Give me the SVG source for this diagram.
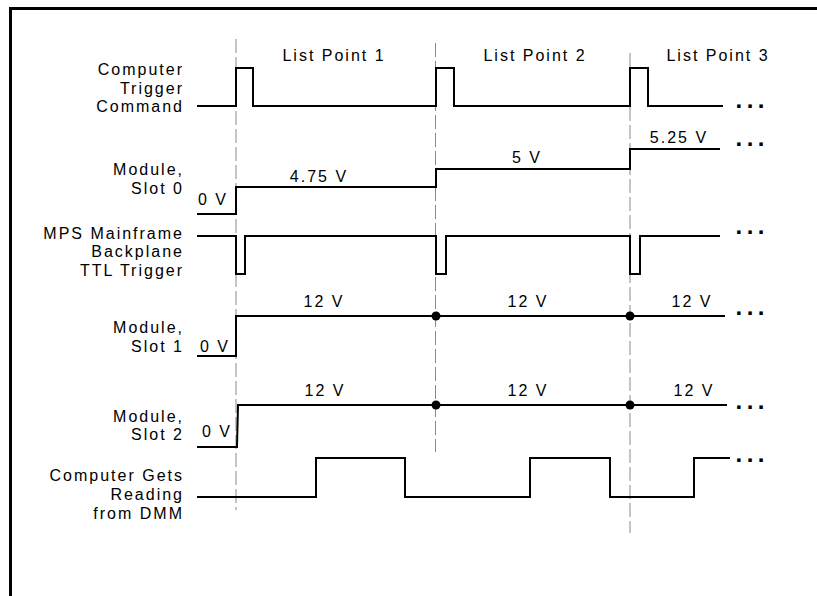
<svg xmlns="http://www.w3.org/2000/svg" width="817" height="596" viewBox="0 0 817 596">
<style>
.lbl{font-family:"Liberation Sans",Arial,sans-serif;font-size:16px;letter-spacing:2px;fill:#000}
.r{text-anchor:end}
.c{text-anchor:middle}
.dots{font-family:"Liberation Sans",Arial,sans-serif;font-size:24px;font-weight:bold;letter-spacing:4.5px;fill:#000}
.sig{fill:none;stroke:#000;stroke-width:2;stroke-linejoin:miter}
.dash{fill:none;stroke:#8a8a8a;stroke-width:1;stroke-dasharray:14 4}
.jn{fill:#000}
</style>
<rect width="817" height="596" fill="#fff"/>
<g id="frame">
<line x1="9" y1="8.5" x2="817" y2="8.5" stroke="#000" stroke-width="3"/>
<line x1="10.5" y1="7" x2="10.5" y2="596" stroke="#000" stroke-width="3"/>
</g>
<g id="connectors">
<line class="dash" x1="236" y1="39" x2="236" y2="510"/>
<line class="dash" x1="435.5" y1="43" x2="435.5" y2="452"/>
<line class="dash" x1="630" y1="53" x2="630" y2="533"/>
</g>
<g id="headers">
<text class="lbl c" x="334" y="61">List Point 1</text>
<text class="lbl c" x="535" y="61">List Point 2</text>
<text class="lbl c" x="718" y="61">List Point 3</text>
</g>
<g id="trigger-command">
<text class="lbl r" x="184" y="75">Computer</text>
<text class="lbl r" x="184" y="93.5">Trigger</text>
<text class="lbl r" x="184" y="112">Command</text>
<path class="sig" d="M197,106 H236 V68 H253 V106 H436 V68 H454 V106 H630 V68 H648 V106 H723"/>
<text class="dots" x="735.5" y="108">...</text>
</g>
<g id="slot0">
<text class="lbl r" x="184" y="175">Module,</text>
<text class="lbl r" x="184" y="194">Slot 0</text>
<path class="sig" d="M197,214 H236 V187 H436 V169 H630 V149 H720"/>
<text class="lbl" x="198" y="205">0 V</text>
<text class="lbl c" x="319" y="182">4.75 V</text>
<text class="lbl c" x="527" y="163">5 V</text>
<text class="lbl c" x="679" y="143">5.25 V</text>
<text class="dots" x="735.5" y="146">...</text>
</g>
<g id="backplane-trigger">
<text class="lbl r" x="184" y="238.5">MPS Mainframe</text>
<text class="lbl r" x="184" y="257">Backplane</text>
<text class="lbl r" x="184" y="275.5">TTL Trigger</text>
<path class="sig" d="M197,236 H236 V274 H245 V236 H436 V274 H446 V236 H630 V274 H640 V236 H720"/>
<text class="dots" x="735.5" y="234">...</text>
</g>
<g id="slot1">
<text class="lbl r" x="184" y="333">Module,</text>
<text class="lbl r" x="184" y="352">Slot 1</text>
<path class="sig" d="M197,356 H236 V316 H725"/>
<text class="lbl" x="200" y="352">0 V</text>
<text class="lbl c" x="324" y="307">12 V</text>
<text class="lbl c" x="528" y="307">12 V</text>
<text class="lbl c" x="692" y="307">12 V</text>
<circle class="jn" cx="436" cy="316" r="4.5"/>
<circle class="jn" cx="630" cy="316" r="4.5"/>
<text class="dots" x="735.5" y="315">...</text>
</g>
<g id="slot2">
<text class="lbl r" x="184" y="421.5">Module,</text>
<text class="lbl r" x="184" y="439.5">Slot 2</text>
<path class="sig" d="M197,447 H237 L238,405 H727"/>
<text class="lbl" x="202" y="437">0 V</text>
<text class="lbl c" x="325" y="396">12 V</text>
<text class="lbl c" x="528" y="396">12 V</text>
<text class="lbl c" x="694" y="396">12 V</text>
<circle class="jn" cx="436" cy="405" r="4.5"/>
<circle class="jn" cx="630" cy="405" r="4.5"/>
<text class="dots" x="735.5" y="409">...</text>
</g>
<g id="dmm-reading">
<text class="lbl r" x="184" y="481">Computer Gets</text>
<text class="lbl r" x="184" y="500">Reading</text>
<text class="lbl r" x="184" y="518.5">from DMM</text>
<path class="sig" d="M197,497 H316 V458 H405 V497 H530 V458 H610 V497 H694 V458 H730"/>
<text class="dots" x="735.5" y="462">...</text>
</g>
</svg>
